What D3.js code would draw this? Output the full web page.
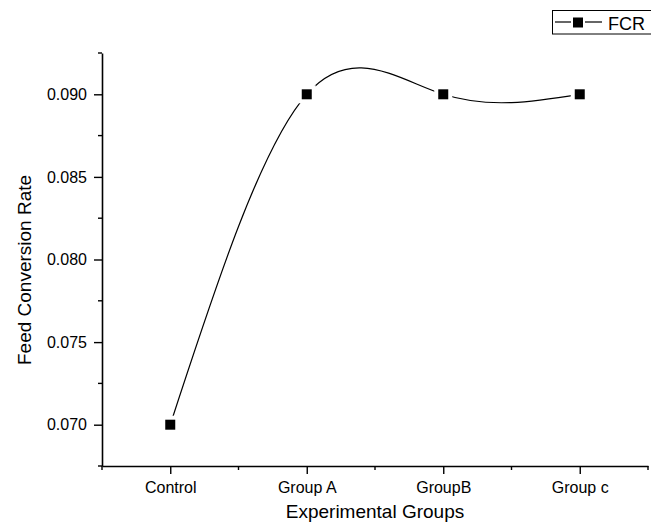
<!DOCTYPE html>
<html><head><meta charset="utf-8">
<script src="https://cdn.jsdelivr.net/npm/d3@7"></script>
<style>body{margin:0;background:#fff}svg{display:block}text{font-family:"Liberation Sans",Arial,sans-serif;fill:#000}</style>
</head><body>
<svg id="c" width="651" height="530"></svg>
<script>
const categories = ["Control","Group A","GroupB","Group c"];
const fcr = [0.070, 0.090, 0.090, 0.090];
const yTicks = [0.070, 0.075, 0.080, 0.085, 0.090];
const yMinorTicks = [0.0675, 0.0725, 0.0775, 0.0825, 0.0875, 0.0925];
const seriesName = "FCR";

const svg = d3.select("#c");
const L = 102, R = 648, T = 53, B = 466;
const x = d3.scalePoint().domain(categories).range([L, R]).padding(0.5);
const y = d3.scaleLinear().domain([0.0675, 0.0925]).range([B, T]);
const step = x.step();

// Y axis
const gy = svg.append("g").attr("transform", `translate(${L},0)`);
gy.call(d3.axisLeft(y).tickValues(yTicks).tickFormat(d3.format(".3f")).tickSize(8).tickSizeOuter(0));
gy.select(".domain").attr("stroke-width", 1.6);
gy.selectAll(".tick line").attr("stroke-width", 1.4);
gy.selectAll(".tick text").attr("font-size", 16).attr("x", -15);
gy.selectAll(".minor").data(yMinorTicks).enter().append("line")
  .attr("x1", 0).attr("x2", -4).attr("y1", d => y(d)).attr("y2", d => y(d))
  .attr("stroke", "#000").attr("stroke-width", 1.4);

// X axis
const gx = svg.append("g").attr("transform", `translate(0,${B})`);
gx.call(d3.axisBottom(x).tickSize(8).tickSizeOuter(0));
gx.select(".domain").attr("stroke-width", 1.6);
gx.selectAll(".tick line").attr("stroke-width", 1.4);
gx.selectAll(".tick text").attr("font-size", 16).attr("y", 16);
const xMinor = d3.range(categories.length + 1).map(i => L + i * step);
gx.selectAll(".minor").data(xMinor).enter().append("line")
  .attr("x1", d => d).attr("x2", d => d).attr("y1", 0).attr("y2", 4)
  .attr("stroke", "#000").attr("stroke-width", 1.4);

// Axis titles
svg.append("text").attr("x", (L + R) / 2).attr("y", 518).attr("text-anchor", "middle")
  .attr("font-size", 19).text("Experimental Groups");
svg.append("text").attr("transform", `translate(31,270) rotate(-90)`)
  .attr("text-anchor", "middle").attr("font-size", 19).text("Feed Conversion Rate");

// Line
const line = d3.line().x((d, i) => x(categories[i])).y(d => y(d)).curve(d3.curveNatural);
svg.append("path").datum(fcr).attr("d", line).attr("fill", "none")
  .attr("stroke", "#000").attr("stroke-width", 1.2);

// marker gaps and markers
svg.selectAll(".gap").data(fcr).enter().append("rect")
  .attr("x", (d, i) => x(categories[i]) - 9).attr("y", d => y(d) - 9)
  .attr("width", 18).attr("height", 18).attr("fill", "#fff");
svg.selectAll(".mk").data(fcr).enter().append("rect")
  .attr("x", (d, i) => x(categories[i]) - 5).attr("y", d => y(d) - 5)
  .attr("width", 10).attr("height", 10).attr("fill", "#000");

// Legend
const lg = svg.append("g");
lg.append("rect").attr("x", 552.5).attr("y", 10.5).attr("width", 110).attr("height", 23.5)
  .attr("fill", "#fff").attr("stroke", "#000").attr("stroke-width", 1);
lg.append("line").attr("x1", 555).attr("x2", 571).attr("y1", 22).attr("y2", 22).attr("stroke", "#000").attr("stroke-width", 1.2);
lg.append("line").attr("x1", 585).attr("x2", 602).attr("y1", 22).attr("y2", 22).attr("stroke", "#000").attr("stroke-width", 1.2);
lg.append("rect").attr("x", 573).attr("y", 17.5).attr("width", 10).attr("height", 10).attr("fill", "#000");
lg.append("text").attr("x", 608).attr("y", 29.5).attr("font-size", 18).text(seriesName);
</script>
</body></html>
